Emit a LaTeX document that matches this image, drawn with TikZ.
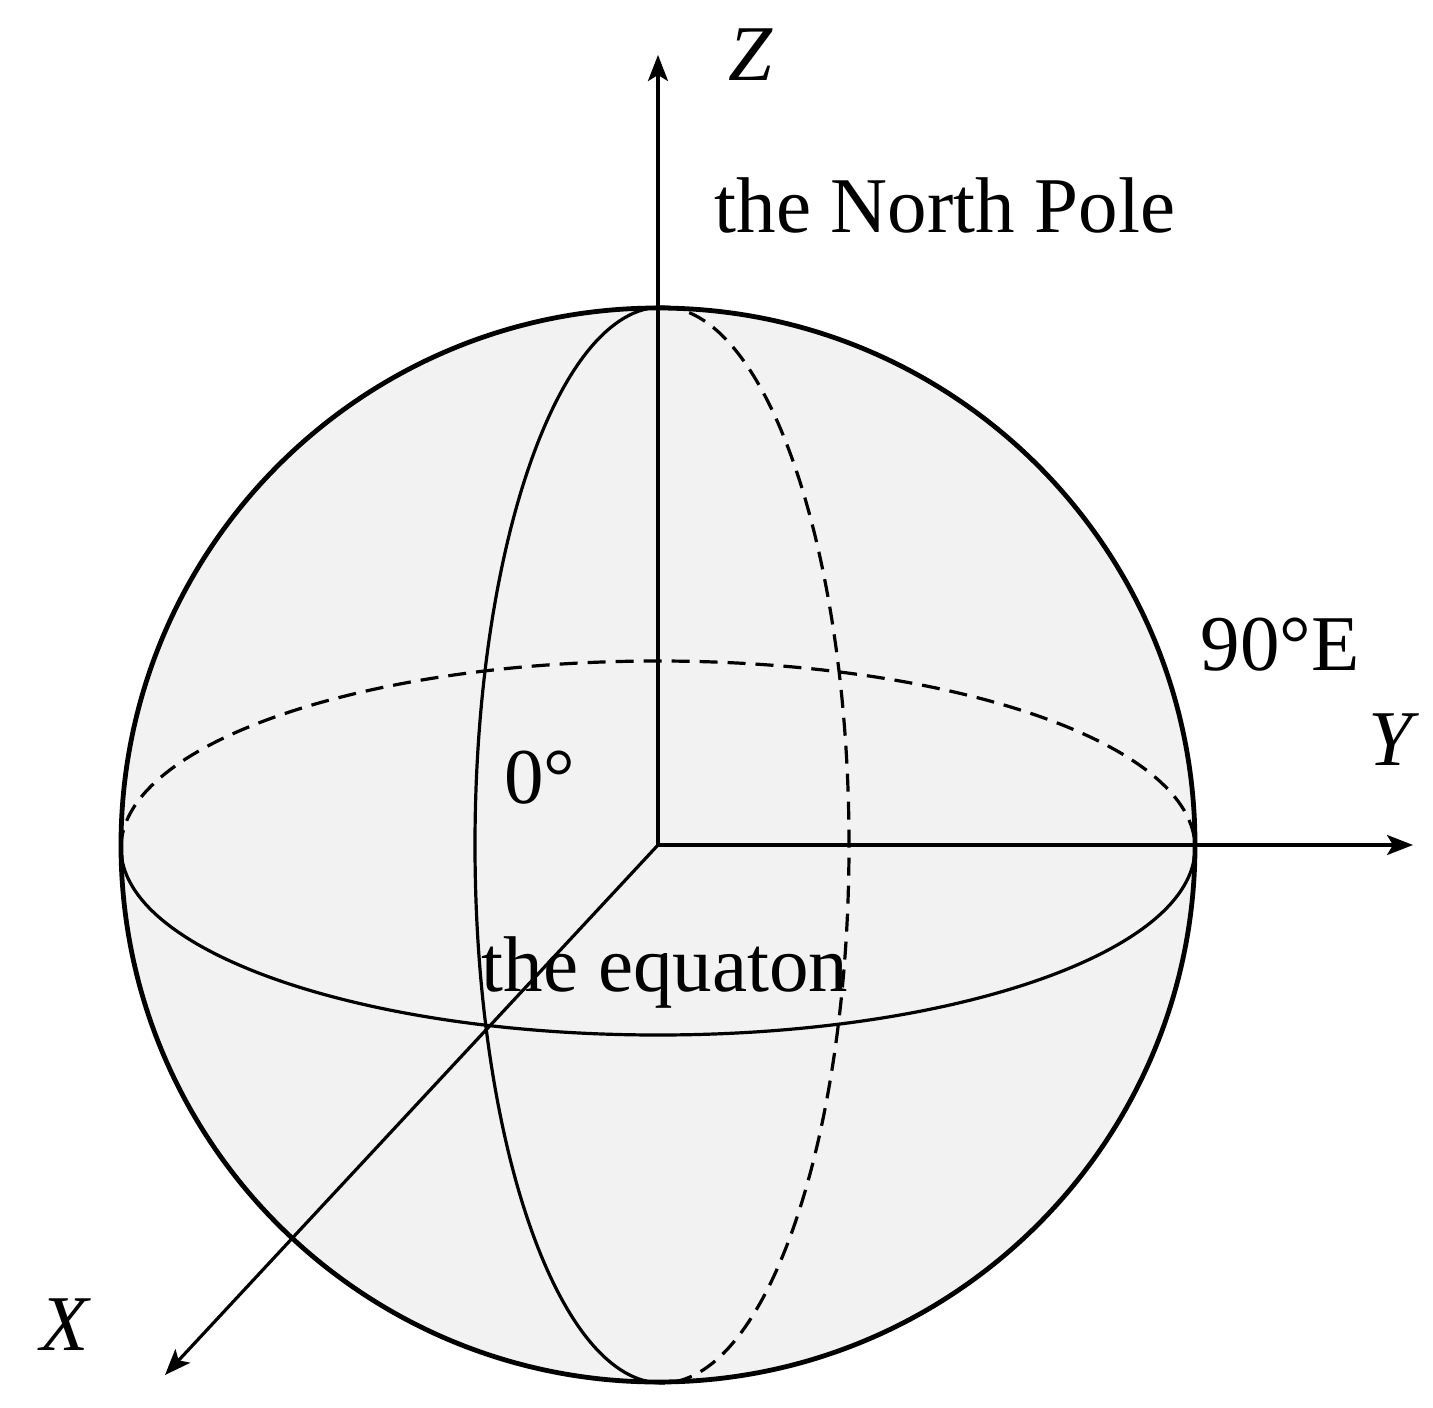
\documentclass[tikz,border=0pt]{standalone}
\usepackage{fontspec}
\setmainfont{Liberation Serif}
\usetikzlibrary{arrows.meta}
\begin{document}
\begin{tikzpicture}[x=1pt,y=-1pt,
  thin line/.style={line width=3.2pt},
  dash line/.style={line width=3.2pt,dash pattern=on 18pt off 10pt},
  axis/.style={line width=3.2pt,-{Stealth[length=26pt,width=20pt,inset=6pt]}},
  lbl/.style={font=\fontsize{79}{90}\selectfont,inner sep=0pt}]
\useasboundingbox (0,0) rectangle (1433,1408);
\coordinate (O) at (658,845);
\fill[gray!10] (O) circle[radius=537];
\draw[dash line] (121,848) arc[start angle=180,end angle=360,x radius=537,y radius=187];
\draw[thin line] (1195,848) arc[start angle=0,end angle=180,x radius=537,y radius=187];
\draw[dash line] (662,307) arc[start angle=-90,end angle=90,x radius=187,y radius=538];
\draw[thin line] (662,1383) arc[start angle=90,end angle=270,x radius=187,y radius=538];
\draw[line width=4.8pt] (O) circle[radius=537];
\coordinate (Ze) at (658,55);
\coordinate (Ye) at (1413,845);
\coordinate (Xe) at (165,1375);
\draw[axis] (O) -- (Ze);
\draw[axis] (O) -- (Ye);
\draw[axis] (O) -- (Xe);
\node[lbl] (z) at (750,55) {\itshape Z};
\node[lbl] (np) at (945,205) {the North Pole};
\node[lbl] (e90) at (1280,645) {90°E};
\node[lbl] (y) at (1390,740) {\itshape Y};
\node[lbl] (zero) at (540,778) {0°};
\node[lbl] (eq) at (665,972) {the equaton};
\node[lbl] (x) at (65,1325) {\itshape X};
\end{tikzpicture}
\end{document}
